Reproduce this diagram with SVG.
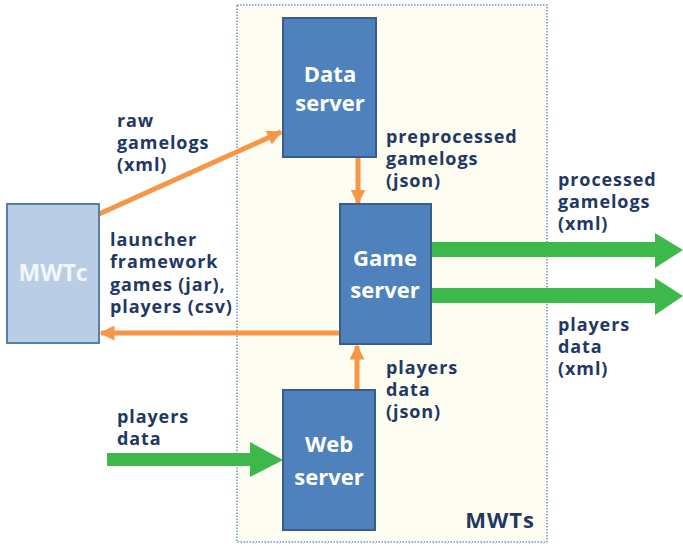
<svg xmlns="http://www.w3.org/2000/svg" width="683" height="546" viewBox="0 0 683 546">
  <style>
    .lbl { font-family: "Open Sans", "Liberation Sans", sans-serif; font-weight: bold; font-size: 18px; letter-spacing: 0.9px; fill: #1f3864; }
    .node { fill: #4f81bd; stroke: #385d8a; stroke-width: 2; }
    .ntxt { font-family: "Open Sans", "Liberation Sans", sans-serif; font-weight: bold; font-size: 22px; fill: #ffffff; text-anchor: middle; }
    .orange { stroke: #f79646; stroke-width: 5; fill: none; }
    .green { fill: #3db84a; }
  </style>
  <defs>
    <marker id="oh" viewBox="0 0 10 10" refX="9" refY="5" markerWidth="3" markerHeight="3" orient="auto" markerUnits="strokeWidth">
      <path d="M0,0 L10,5 L0,10 Z" fill="#f79646"/>
    </marker>
  </defs>
  <rect width="683" height="546" fill="#ffffff"/>

  <!-- MWTs container -->
  <g id="mwts">
    <rect x="237" y="5" width="310" height="537" fill="#fdfdf1" stroke="#6f93cc" stroke-width="1.5" stroke-dasharray="1.5 1.5"/>
    <text class="lbl" x="535" y="528" text-anchor="end" style="font-size:22px;letter-spacing:1px">MWTs</text>
  </g>

  <!-- connectors -->
  <g id="connectors">
    <line class="orange" x1="99" y1="214" x2="281" y2="132" marker-end="url(#oh)"/>
    <line class="orange" x1="358" y1="158" x2="358" y2="203" marker-end="url(#oh)"/>
    <line class="orange" x1="357" y1="389" x2="357" y2="346" marker-end="url(#oh)"/>
    <line class="orange" x1="340" y1="333" x2="101" y2="333" marker-end="url(#oh)"/>
    <path class="green" d="M431,242 L655,242 L655,233 L683,250 L655,268 L655,257 L431,257 Z"/>
    <path class="green" d="M431,288 L655,288 L655,278 L683,296 L655,315 L655,303 L431,303 Z"/>
    <path class="green" d="M107,453 L250,453 L250,442 L283,460 L250,477 L250,466 L107,466 Z"/>
  </g>

  <!-- connector labels -->
  <g id="labels">
    <text class="lbl" x="117" y="127">raw</text>
    <text class="lbl" x="117" y="149">gamelogs</text>
    <text class="lbl" x="117" y="171">(xml)</text>

    <text class="lbl" x="386" y="143">preprocessed</text>
    <text class="lbl" x="386" y="165">gamelogs</text>
    <text class="lbl" x="386" y="187">(json)</text>

    <text class="lbl" x="558" y="186">processed</text>
    <text class="lbl" x="558" y="208">gamelogs</text>
    <text class="lbl" x="558" y="230">(xml)</text>

    <text class="lbl" x="558" y="331">players</text>
    <text class="lbl" x="558" y="353">data</text>
    <text class="lbl" x="558" y="375">(xml)</text>

    <text class="lbl" x="110" y="246">launcher</text>
    <text class="lbl" x="110" y="268">framework</text>
    <text class="lbl" x="110" y="291">games (jar),</text>
    <text class="lbl" x="110" y="313">players (csv)</text>

    <text class="lbl" x="386" y="374">players</text>
    <text class="lbl" x="386" y="396">data</text>
    <text class="lbl" x="386" y="418">(json)</text>

    <text class="lbl" x="117" y="423">players</text>
    <text class="lbl" x="117" y="445">data</text>
  </g>

  <!-- nodes -->
  <g id="mwtc">
    <rect x="7" y="204" width="92" height="139" fill="#b9cde5" stroke="#5a7eab" stroke-width="2"/>
    <text class="ntxt" x="53" y="281" style="fill:#f4f7fb;font-size:23px">MWTc</text>
  </g>
  <g id="data-server">
    <rect class="node" x="283" y="18" width="93" height="139"/>
    <text class="ntxt" x="330" y="82">Data</text>
    <text class="ntxt" x="330" y="111">server</text>
  </g>
  <g id="game-server">
    <rect class="node" x="340" y="204" width="91" height="140"/>
    <text class="ntxt" x="385" y="266">Game</text>
    <text class="ntxt" x="385" y="298">server</text>
  </g>
  <g id="web-server">
    <rect class="node" x="283" y="390" width="92" height="140"/>
    <text class="ntxt" x="329" y="452">Web</text>
    <text class="ntxt" x="329" y="485">server</text>
  </g>
</svg>
